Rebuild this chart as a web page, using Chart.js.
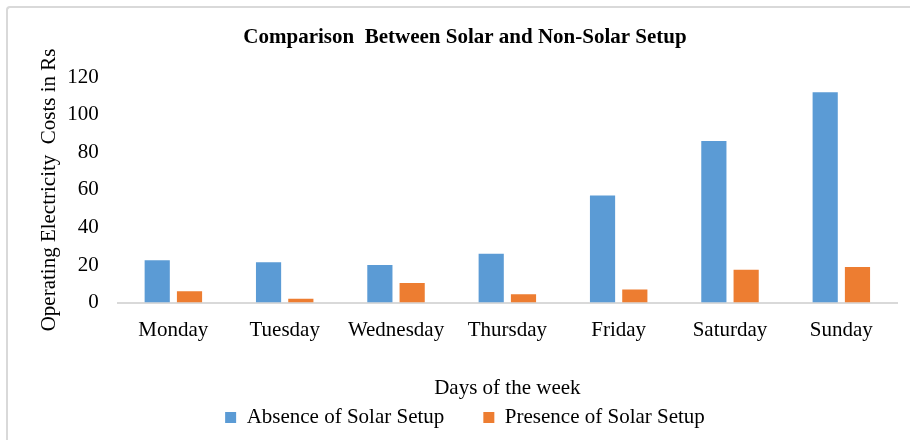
<!DOCTYPE html>
<html lang="en">
<head>
  <meta charset="UTF-8" />
  <title>Comparison Between Solar and Non-Solar Setup</title>
  <script src="https://cdn.jsdelivr.net/npm/chart.js"></script>
  <style>
    html, body {
      margin: 0;
      padding: 0;
      background: #fff;
    }
    .wrap {
      position: relative;
      width: 910px;
      height: 440px;
    }
    .frame {
      position: absolute;
      left: 6px;
      top: 6px;
      right: 0;
      bottom: 0;
      border-left: 2px solid #d9d9d9;
      border-top: 2px solid #d9d9d9;
      border-top-left-radius: 4px;
    }
    canvas {
      position: absolute;
      left: 0;
      top: 0;
    }
  </style>
</head>
<body>
  <div class="wrap">
    <div class="frame"></div>
    <canvas id="chart" width="910" height="440"></canvas>
  </div>

  <script>
    const days = ["Monday", "Tuesday", "Wednesday", "Thursday", "Friday", "Saturday", "Sunday"];
    const withoutSolar = [22.5, 21.5, 20, 26, 57, 86, 112];
    const withSolar = [6, 2, 10.5, 4.5, 7, 17.5, 19];
    const seriesNames = ["Absence of Solar Setup", "Presence of Solar Setup"];

    const serif = "'Liberation Serif', 'Times New Roman', serif";
    Chart.defaults.font.family = serif;
    Chart.defaults.font.size = 21;
    Chart.defaults.color = "#000";

    // note: chart.js counts tick padding twice when sizing an axis,
    // so the title paddings below are trimmed to keep the plot where it should be
    const ctx = document.getElementById("chart").getContext("2d");
    new Chart(ctx, {
      type: "bar",
      data: {
        labels: days,
        datasets: [
          {
            label: seriesNames[0],
            data: withoutSolar,
            backgroundColor: "#5b9bd5",
            categoryPercentage: 0.58,
            barPercentage: 0.78
          },
          {
            label: seriesNames[1],
            data: withSolar,
            backgroundColor: "#ed7d31",
            categoryPercentage: 0.58,
            barPercentage: 0.78
          }
        ]
      },
      options: {
        responsive: false,
        animation: false,
        layout: {
          padding: { left: 33, right: 13, top: 0, bottom: 2 }
        },
        plugins: {
          title: {
            display: true,
            text: "Comparison  Between Solar and Non-Solar Setup",
            font: { size: 21, weight: "bold" },
            color: "#000",
            padding: { top: 25, bottom: 27 }
          },
          legend: {
            position: "bottom",
            labels: {
              boxWidth: 11,
              boxHeight: 11,
              padding: 39,
              font: { size: 21 },
              color: "#000"
            }
          },
          tooltip: { enabled: false }
        },
        scales: {
          x: {
            grid: { display: false, drawTicks: false },
            border: { display: true, color: "#d9d9d9", width: 2 },
            ticks: { padding: 15, color: "#000", font: { size: 21 } },
            title: {
              display: true,
              text: "Days of the week",
              color: "#000",
              font: { size: 21 },
              padding: { top: 18, bottom: -33 }
            }
          },
          y: {
            min: 0,
            max: 120,
            grid: { display: false, drawTicks: false },
            border: { display: false },
            ticks: { stepSize: 20, padding: 19, color: "#000", font: { size: 21 } },
            title: {
              display: true,
              text: "Operating Electricity  Costs in Rs",
              color: "#000",
              font: { size: 21 },
              padding: { top: 4, bottom: -14 }
            }
          }
        }
      }
    });
  </script>
</body>
</html>
